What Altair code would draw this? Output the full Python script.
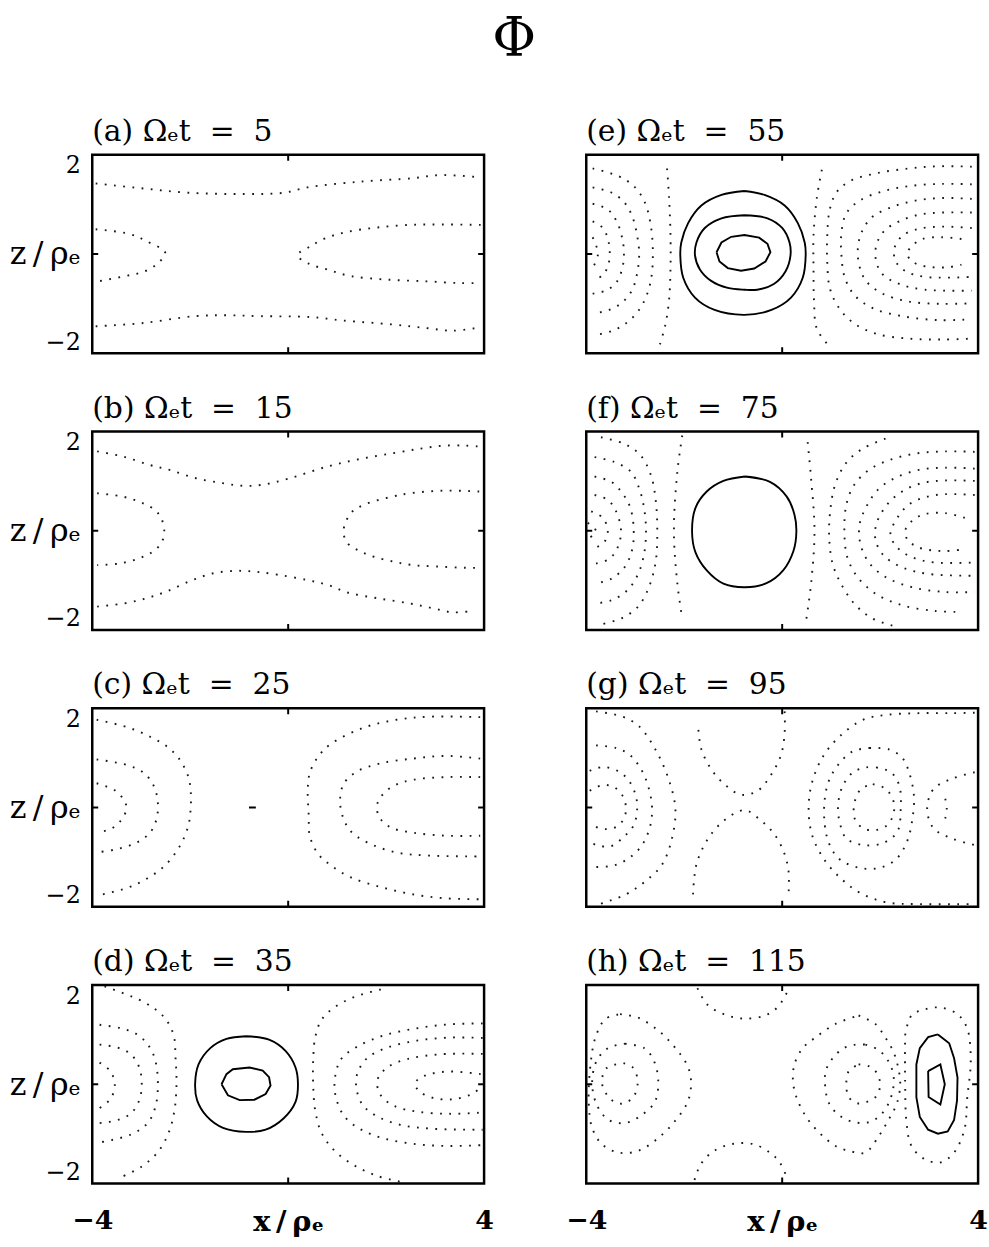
import altair as alt
import pandas as pd

W, H = 395, 200
SERIF = "DejaVu Serif"

# ---- contour paths, each a list of (x/rho_e, z/rho_e) points ----
# (a) t = 5
A1 = [(-3.93, 1.60), (-2.99, 1.49), (-2.04, 1.39), (-0.89, 1.36), (-0.08, 1.39), (0.39, 1.51),
      (1.47, 1.64), (2.55, 1.72), (3.09, 1.79), (3.93, 1.74)]
A2 = [(-3.93, -1.64), (-2.99, -1.57), (-1.91, -1.41), (-1.23, -1.39), (-0.56, -1.41), (0.46, -1.43),
      (1.13, -1.51), (2.14, -1.60), (2.82, -1.68), (3.36, -1.74), (3.83, -1.68)]
A3 = [(-3.93, 0.56), (-3.26, 0.46), (-2.89, 0.29), (-2.51, 0.03), (-2.65, -0.20), (-2.92, -0.39),
      (-3.32, -0.50), (-3.93, -0.63)]
A4 = [(3.93, 0.66), (3.16, 0.67), (2.48, 0.66), (1.81, 0.60), (1.20, 0.50), (0.79, 0.37), (0.46, 0.18),
      (0.19, -0.03), (0.42, -0.22), (0.79, -0.35), (1.27, -0.50), (2.01, -0.58), (2.82, -0.62),
      (3.50, -0.66), (3.93, -0.66)]

# (b) t = 15
B1 = [(-3.90, 1.80), (-3.36, 1.68), (-2.82, 1.49), (-2.42, 1.38), (-1.88, 1.19), (-1.34, 1.08),
      (-0.94, 1.02), (-0.54, 1.04), (0.00, 1.18), (0.81, 1.46), (1.48, 1.63), (2.15, 1.76),
      (2.69, 1.86), (3.16, 1.93), (3.63, 1.93), (3.90, 1.91)]
B2 = [(-3.90, -1.72), (-3.36, -1.65), (-2.89, -1.53), (-2.49, -1.38), (-2.02, -1.15), (-1.55, -0.97),
      (-1.08, -0.91), (-0.67, -0.93), (-0.20, -1.00), (0.40, -1.12), (0.81, -1.23), (1.21, -1.40),
      (1.82, -1.53), (2.49, -1.65), (2.96, -1.76), (3.36, -1.85), (3.76, -1.82)]
B3 = [(-3.90, 0.85), (-3.36, 0.77), (-2.96, 0.62), (-2.72, 0.47), (-2.59, 0.28), (-2.53, -0.02),
      (-2.59, -0.28), (-2.76, -0.47), (-3.03, -0.62), (-3.43, -0.74), (-3.90, -0.78)]
B4 = [(3.90, 0.89), (3.16, 0.91), (2.49, 0.85), (2.15, 0.78), (1.55, 0.59), (1.28, 0.40), (1.13, 0.00),
      (1.21, -0.28), (1.48, -0.47), (1.75, -0.59), (2.15, -0.70), (2.55, -0.78), (3.03, -0.81),
      (3.63, -0.84), (3.90, -0.84)]

# (c) t = 25
C_L1 = [(-3.91, 1.99), (-3.28, 1.82), (-2.81, 1.60), (-2.47, 1.38), (-2.21, 1.08), (-2.04, 0.70),
        (-1.99, 0.37), (-1.99, -0.01), (-2.04, -0.42), (-2.21, -0.87), (-2.51, -1.31), (-2.88, -1.61),
        (-3.28, -1.82), (-3.91, -2.00)]
C_L2 = [(-3.91, 1.09), (-3.28, 0.96), (-2.94, 0.78), (-2.74, 0.48), (-2.66, 0.10), (-2.69, -0.27),
        (-2.82, -0.57), (-3.08, -0.79), (-3.48, -0.94), (-3.91, -1.02)]
C_L3 = [(-3.91, 0.55), (-3.54, 0.39), (-3.36, 0.18), (-3.30, -0.01), (-3.40, -0.27), (-3.61, -0.48),
        (-3.91, -0.57)]
C_R1 = [(3.92, 2.05), (2.88, 2.06), (2.21, 1.99), (1.54, 1.81), (0.87, 1.44), (0.61, 1.15), (0.44, 0.78),
        (0.40, 0.40), (0.42, -0.19), (0.44, -0.64), (0.61, -1.05), (0.87, -1.31), (1.27, -1.58),
        (1.88, -1.80), (2.55, -1.97), (3.22, -2.06), (3.92, -2.08)]
C_R2 = [(3.92, 1.11), (3.22, 1.17), (2.55, 1.11), (1.88, 1.00), (1.41, 0.82), (1.14, 0.55), (1.06, 0.18),
        (1.11, -0.19), (1.27, -0.53), (1.61, -0.79), (2.21, -1.02), (2.88, -1.09), (3.92, -1.11)]
C_R3 = [(3.92, 0.69), (3.22, 0.69), (2.55, 0.63), (2.21, 0.52), (1.94, 0.31), (1.81, 0.03), (1.88, -0.25),
        (2.11, -0.46), (2.55, -0.57), (3.22, -0.64), (3.92, -0.64)]
C_S = [(-0.80, 0.00), (-0.66, 0.00)]

# (d) t = 35
D_L1 = [(-3.75, 2.22), (-2.94, 1.86), (-2.54, 1.53), (-2.34, 1.12), (-2.30, 0.60), (-2.28, 0.01),
        (-2.32, -0.58), (-2.44, -1.10), (-2.67, -1.55), (-3.01, -1.88), (-3.48, -2.14)]
D_L2 = [(-3.85, 1.35), (-3.41, 1.27), (-3.07, 1.12), (-2.84, 0.86), (-2.71, 0.53), (-2.66, 0.01),
        (-2.71, -0.51), (-2.87, -0.88), (-3.21, -1.14), (-3.85, -1.32)]
D_L3 = [(-3.85, 0.90), (-3.48, 0.83), (-3.21, 0.68), (-3.04, 0.38), (-2.99, 0.01), (-3.04, -0.36),
        (-3.21, -0.66), (-3.51, -0.82), (-3.85, -0.88)]
D_L4 = [(-3.85, 0.49), (-3.64, 0.31), (-3.54, 0.01), (-3.62, -0.32), (-3.85, -0.54)]
D_S1 = [(-0.86, 1.09), (-0.39, 1.01), (-0.05, 0.75), (0.15, 0.38), (0.20, 0.00), (0.15, -0.40),
        (-0.09, -0.77), (-0.46, -1.03), (-0.86, -1.08), (-1.33, -0.99), (-1.66, -0.73), (-1.86, -0.36),
        (-1.90, 0.00), (-1.83, 0.45), (-1.59, 0.82), (-1.26, 1.03), (-0.86, 1.09)]
D_S2 = [(-1.36, 0.00), (-1.26, 0.23), (-1.13, 0.34), (-0.79, 0.38), (-0.52, 0.31), (-0.39, 0.16),
        (-0.36, -0.03), (-0.46, -0.22), (-0.69, -0.35), (-0.99, -0.36), (-1.23, -0.25), (-1.36, 0.00)]
D_R1 = [(1.89, 2.15), (1.35, 1.98), (0.95, 1.75), (0.68, 1.46), (0.55, 1.05), (0.51, 0.53), (0.51, 0.01),
        (0.55, -0.58), (0.68, -1.10), (0.95, -1.51), (1.35, -1.84), (1.82, -2.08), (2.29, -2.21)]
D_R2 = [(3.97, 1.38), (3.30, 1.36), (2.63, 1.27), (1.96, 1.11), (1.42, 0.86), (1.08, 0.57), (0.95, 0.09),
        (0.98, -0.32), (1.15, -0.73), (1.49, -1.03), (1.96, -1.23), (2.63, -1.36), (3.30, -1.40),
        (3.97, -1.38)]
D_R3 = [(3.97, 1.05), (3.30, 1.06), (2.63, 0.99), (2.02, 0.83), (1.62, 0.60), (1.42, 0.27), (1.39, -0.06),
        (1.52, -0.47), (1.82, -0.73), (2.29, -0.92), (2.96, -1.01), (3.97, -1.03)]
D_R4 = [(3.97, 0.69), (3.10, 0.68), (2.43, 0.57), (2.02, 0.38), (1.82, 0.09), (1.89, -0.25), (2.16, -0.49),
        (2.63, -0.62), (3.30, -0.67), (3.97, -0.64)]
D_R5 = [(3.93, 0.23), (3.30, 0.29), (2.89, 0.23), (2.66, 0.12), (2.59, 0.00), (2.69, -0.17), (2.96, -0.31),
        (3.36, -0.34), (3.77, -0.21), (3.97, -0.03)]

# (e) t = 55
E_VL = [(-2.35, 1.94), (-2.31, 1.29), (-2.28, 0.41), (-2.28, -0.32), (-2.31, -1.05), (-2.39, -1.63),
        (-2.51, -2.10)]
E_A1 = [(-3.87, 1.94), (-3.33, 1.76), (-3.03, 1.54), (-2.82, 1.21), (-2.69, 0.70), (-2.64, 0.01),
        (-2.69, -0.65), (-2.86, -1.16), (-3.13, -1.52), (-3.46, -1.74), (-3.87, -1.85)]
E_A2 = [(-3.87, 1.51), (-3.50, 1.40), (-3.23, 1.18), (-3.06, 0.85), (-2.96, 0.41), (-2.92, 0.01),
        (-2.96, -0.43), (-3.07, -0.83), (-3.29, -1.12), (-3.56, -1.28), (-3.87, -1.35)]
E_A3 = [(-3.87, 1.14), (-3.56, 1.01), (-3.38, 0.74), (-3.27, 0.38), (-3.23, 0.01), (-3.27, -0.35),
        (-3.39, -0.65), (-3.60, -0.83), (-3.87, -0.90)]
E_A4 = [(-3.87, 0.74), (-3.66, 0.59), (-3.55, 0.30), (-3.52, 0.01), (-3.56, -0.28), (-3.68, -0.50),
        (-3.87, -0.57)]
E_A5 = [(-3.87, 0.38), (-3.76, 0.01), (-3.87, -0.32)]
E_S1 = [(-0.77, 1.43), (-0.36, 1.34), (0.05, 1.10), (0.32, 0.70), (0.46, 0.26), (0.48, -0.03), (0.42, -0.54),
        (0.18, -0.99), (-0.22, -1.27), (-0.77, -1.38), (-1.38, -1.27), (-1.78, -0.99), (-2.02, -0.54),
        (-2.08, -0.03), (-2.06, 0.26), (-1.92, 0.70), (-1.65, 1.10), (-1.24, 1.34), (-0.77, 1.43)]
E_S2 = [(-0.77, 0.88), (-0.30, 0.81), (0.00, 0.59), (0.15, 0.26), (0.17, -0.03), (0.07, -0.39),
        (-0.17, -0.68), (-0.51, -0.81), (-0.77, -0.81), (-1.11, -0.77), (-1.45, -0.61), (-1.68, -0.35),
        (-1.78, -0.03), (-1.75, 0.26), (-1.58, 0.59), (-1.24, 0.81), (-0.77, 0.88)]
E_S3 = [(-1.34, 0.04), (-1.24, 0.26), (-1.04, 0.39), (-0.77, 0.43), (-0.47, 0.37), (-0.30, 0.23),
        (-0.24, 0.04), (-0.34, -0.17), (-0.57, -0.33), (-0.84, -0.38), (-1.11, -0.32), (-1.28, -0.17),
        (-1.34, 0.04)]
E_VR = [(0.81, 1.91), (0.71, 1.29), (0.64, 0.41), (0.64, -0.32), (0.65, -1.05), (0.71, -1.70), (0.97, -2.10)]
E_B1 = [(3.87, 1.98), (3.19, 1.99), (2.59, 1.94), (1.92, 1.83), (1.38, 1.65), (1.11, 1.40), (0.97, 1.00),
        (0.92, 0.41), (0.92, -0.17), (0.97, -0.76), (1.14, -1.19), (1.45, -1.56), (1.92, -1.81),
        (2.59, -1.92), (3.26, -1.94), (3.87, -1.92)]
E_B2 = [(3.87, 1.58), (3.26, 1.59), (2.59, 1.54), (2.05, 1.42), (1.58, 1.21), (1.31, 0.92), (1.21, 0.48),
        (1.21, -0.03), (1.28, -0.54), (1.48, -0.94), (1.85, -1.23), (2.45, -1.41), (3.19, -1.50),
        (3.87, -1.48)]
E_B3 = [(3.87, 1.25), (3.26, 1.27), (2.72, 1.21), (2.25, 1.07), (1.85, 0.85), (1.65, 0.56), (1.55, 0.19),
        (1.57, -0.24), (1.71, -0.61), (2.05, -0.90), (2.59, -1.08), (3.26, -1.13), (3.87, -1.12)]
E_B4 = [(3.87, 0.94), (3.26, 0.94), (2.79, 0.89), (2.39, 0.74), (2.08, 0.52), (1.92, 0.19), (1.92, -0.17),
        (2.05, -0.46), (2.39, -0.68), (2.92, -0.81), (3.87, -0.83)]
E_B5 = [(3.87, 0.59), (3.26, 0.62), (2.79, 0.57), (2.45, 0.41), (2.29, 0.12), (2.32, -0.17), (2.52, -0.39),
        (2.92, -0.52), (3.87, -0.52)]
E_B6 = [(3.66, 0.34), (3.26, 0.38), (2.86, 0.34), (2.66, 0.19), (2.55, 0.01), (2.66, -0.17), (2.92, -0.28),
        (3.39, -0.30), (3.66, -0.24)]

# (f) t = 75
F_VL = [(-2.04, 2.16), (-2.14, 1.34), (-2.21, -0.01), (-2.14, -1.20), (-2.04, -1.99)]
F_VR = [(0.52, 2.01), (0.59, 1.19), (0.66, -0.01), (0.59, -1.20), (0.49, -2.03)]
F_S = [(-0.76, 1.23), (-0.25, 1.11), (0.09, 0.78), (0.25, 0.37), (0.29, -0.01), (0.23, -0.46), (0.02, -0.90),
       (-0.32, -1.19), (-0.76, -1.28), (-1.20, -1.20), (-1.54, -0.90), (-1.77, -0.49), (-1.84, -0.01),
       (-1.77, 0.52), (-1.54, 0.89), (-1.20, 1.13), (-0.76, 1.23)]
F_A1 = [(-3.70, 2.12), (-3.22, 1.97), (-2.89, 1.71), (-2.68, 1.26), (-2.58, 0.67), (-2.55, -0.01),
        (-2.58, -0.68), (-2.72, -1.28), (-2.95, -1.73), (-3.29, -1.99), (-3.76, -2.14)]
F_A2 = [(-3.83, 1.67), (-3.43, 1.56), (-3.09, 1.34), (-2.92, 0.96), (-2.82, 0.52), (-2.78, -0.01),
        (-2.82, -0.53), (-2.94, -0.98), (-3.16, -1.35), (-3.49, -1.58), (-3.83, -1.65)]
F_A3 = [(-3.83, 1.23), (-3.49, 1.11), (-3.26, 0.85), (-3.10, 0.52), (-3.03, -0.01), (-3.07, -0.46),
        (-3.22, -0.83), (-3.49, -1.09), (-3.83, -1.20)]
F_A4 = [(-3.83, 0.81), (-3.56, 0.70), (-3.39, 0.44), (-3.29, -0.01), (-3.36, -0.38), (-3.53, -0.64),
        (-3.83, -0.75)]
F_A5 = [(-3.90, 0.44), (-3.66, 0.29), (-3.56, -0.01), (-3.64, -0.27), (-3.90, -0.42)]
F_A6 = [(-3.97, 0.18), (-3.80, -0.01), (-3.97, -0.19)]
F_B1 = [(2.11, 2.09), (1.64, 1.86), (1.30, 1.53), (1.08, 1.04), (0.98, 0.44), (0.96, -0.16), (1.03, -0.75),
        (1.20, -1.20), (1.47, -1.65), (1.84, -1.99), (2.38, -2.19)]
F_B2 = [(3.93, 1.79), (3.33, 1.80), (2.72, 1.75), (2.18, 1.60), (1.77, 1.38), (1.47, 1.04), (1.31, 0.59),
        (1.27, -0.01), (1.33, -0.60), (1.54, -1.05), (1.91, -1.43), (2.45, -1.69), (3.12, -1.82),
        (3.60, -1.84)]
F_B3 = [(3.93, 1.41), (3.33, 1.43), (2.79, 1.38), (2.31, 1.20), (1.98, 0.96), (1.74, 0.59), (1.58, 0.14),
        (1.60, -0.31), (1.77, -0.72), (2.11, -1.05), (2.65, -1.28), (3.33, -1.39), (3.93, -1.39)]
F_B4 = [(3.93, 1.13), (3.33, 1.14), (2.85, 1.08), (2.45, 0.89), (2.14, 0.59), (1.92, 0.14), (1.91, -0.23),
        (2.08, -0.57), (2.45, -0.83), (2.99, -0.98), (3.93, -1.02)]
F_B5 = [(3.93, 0.81), (3.33, 0.83), (2.92, 0.76), (2.58, 0.59), (2.35, 0.29), (2.21, -0.08), (2.35, -0.38),
        (2.65, -0.60), (3.12, -0.72), (3.93, -0.72)]
F_B6 = [(3.73, 0.29), (3.33, 0.40), (2.92, 0.38), (2.68, 0.25), (2.52, 0.03), (2.55, -0.19), (2.79, -0.38),
        (3.26, -0.46), (3.73, -0.42)]

# (g) t = 95
G_A1 = [(-3.80, 2.18), (-3.26, 2.06), (-2.92, 1.84), (-2.59, 1.32), (-2.32, 0.65), (-2.18, -0.03),
        (-2.25, -0.70), (-2.45, -1.29), (-2.79, -1.67), (-3.19, -1.97), (-3.73, -2.19)]
G_A2 = [(-3.80, 1.41), (-3.39, 1.35), (-3.13, 1.21), (-2.92, 0.94), (-2.76, 0.57), (-2.66, 0.05),
        (-2.69, -0.40), (-2.86, -0.85), (-3.13, -1.15), (-3.46, -1.32), (-3.87, -1.35)]
G_A3 = [(-3.93, 0.83), (-3.66, 0.92), (-3.36, 0.83), (-3.13, 0.61), (-2.99, 0.27), (-2.96, -0.03),
        (-3.03, -0.40), (-3.23, -0.66), (-3.50, -0.88), (-3.76, -0.86), (-3.93, -0.79)]
G_A4 = [(-3.93, 0.38), (-3.66, 0.51), (-3.43, 0.46), (-3.26, 0.27), (-3.19, 0.01), (-3.23, -0.25),
        (-3.39, -0.44), (-3.63, -0.49), (-3.90, -0.40)]
G_U = [(-1.71, 1.76), (-1.65, 1.32), (-1.45, 0.87), (-1.18, 0.53), (-0.84, 0.29), (-0.50, 0.38),
       (-0.24, 0.72), (-0.03, 1.17), (0.05, 1.69), (0.05, 2.18)]
G_N = [(-1.82, -1.97), (-1.75, -1.29), (-1.51, -0.70), (-1.18, -0.29), (-0.77, -0.06), (-0.44, -0.29),
       (-0.17, -0.59), (0.03, -1.00), (0.13, -1.44), (0.13, -1.97)]
G_C1 = [(3.93, 2.15), (3.46, 2.14), (2.79, 2.14), (2.12, 2.10), (1.65, 1.99), (1.18, 1.62), (0.84, 1.17),
        (0.61, 0.57), (0.54, -0.03), (0.61, -0.62), (0.84, -1.15), (1.18, -1.59), (1.58, -1.93),
        (2.12, -2.15), (2.79, -2.19), (3.87, -2.19)]
G_C2 = [(1.78, 1.35), (2.18, 1.32), (2.45, 1.13), (2.59, 0.80), (2.69, 0.27), (2.66, -0.25), (2.55, -0.77),
        (2.32, -1.18), (1.98, -1.37), (1.58, -1.37), (1.18, -1.18), (0.97, -0.85), (0.87, -0.40),
        (0.87, 0.20), (0.97, 0.65), (1.18, 1.02), (1.45, 1.28), (1.78, 1.35)]
G_C3 = [(1.92, 0.91), (2.22, 0.80), (2.39, 0.50), (2.42, -0.03), (2.35, -0.55), (2.05, -0.81), (1.65, -0.85),
        (1.31, -0.70), (1.18, -0.36), (1.14, 0.05), (1.24, 0.50), (1.45, 0.80), (1.71, 0.91), (1.92, 0.91)]
G_C4 = [(1.85, 0.53), (2.12, 0.42), (2.29, 0.05), (2.18, -0.36), (1.92, -0.51), (1.65, -0.47), (1.48, -0.25),
        (1.48, 0.12), (1.61, 0.42), (1.85, 0.53)]
G_D = [(3.93, 0.80), (3.46, 0.65), (3.09, 0.42), (2.96, -0.03), (3.09, -0.47), (3.46, -0.70), (3.93, -0.85)]
G_E = [(3.33, 0.20), (3.36, -0.03), (3.33, -0.25)]

# (h) t = 115
H_L1 = [(-3.31, 1.59), (-2.94, 1.51), (-2.53, 1.22), (-2.20, 0.85), (-1.93, 0.41), (-1.86, 0.04),
        (-1.93, -0.40), (-2.20, -0.85), (-2.53, -1.22), (-2.94, -1.51), (-3.34, -1.55), (-3.68, -1.36),
        (-3.88, -0.99), (-3.95, -0.40), (-3.91, 0.48), (-3.81, 1.07), (-3.61, 1.48), (-3.31, 1.59)]
H_L2 = [(-3.21, 0.92), (-2.80, 0.81), (-2.60, 0.48), (-2.53, 0.04), (-2.60, -0.40), (-2.87, -0.70),
        (-3.21, -0.88), (-3.54, -0.81), (-3.78, -0.48), (-3.88, 0.04), (-3.78, 0.55), (-3.54, 0.83),
        (-3.21, 0.92)]
H_L3 = [(-3.24, 0.48), (-3.04, 0.37), (-2.95, 0.04), (-3.04, -0.29), (-3.27, -0.44), (-3.51, -0.33),
        (-3.68, 0.04), (-3.58, 0.37), (-3.24, 0.48)]
H_U = [(-1.73, 2.18), (-1.53, 1.81), (-1.19, 1.59), (-0.79, 1.49), (-0.38, 1.55), (-0.11, 1.73),
       (0.09, 2.07), (0.12, 2.21)]
H_N = [(-1.79, -2.17), (-1.66, -1.81), (-1.39, -1.51), (-0.99, -1.35), (-0.58, -1.36), (-0.25, -1.55),
       (-0.05, -1.77), (0.09, -2.10)]
H_K1 = [(1.56, 1.56), (1.90, 1.37), (2.10, 1.07), (2.27, 0.74), (2.37, 0.37), (2.41, 0.00), (2.34, -0.44),
        (2.17, -0.81), (1.97, -1.18), (1.70, -1.55), (1.43, -1.53), (1.09, -1.40), (0.76, -1.10),
        (0.49, -0.74), (0.29, -0.29), (0.22, 0.08), (0.25, 0.45), (0.42, 0.82), (0.69, 1.07), (1.09, 1.37),
        (1.56, 1.56)]
H_K2 = [(1.70, 0.90), (1.97, 0.78), (2.17, 0.52), (2.27, 0.22), (2.27, -0.07), (2.17, -0.44), (1.97, -0.74),
        (1.73, -0.87), (1.43, -0.85), (1.16, -0.70), (0.96, -0.44), (0.88, -0.07), (0.89, 0.30), (1.03, 0.59),
        (1.26, 0.82), (1.50, 0.90), (1.70, 0.90)]
H_K3 = [(1.56, 0.45), (1.77, 0.41), (1.93, 0.26), (2.00, 0.00), (1.93, -0.26), (1.73, -0.40), (1.53, -0.43),
        (1.36, -0.29), (1.31, 0.00), (1.36, 0.30), (1.56, 0.45)]
H_K4 = [(2.51, 1.11), (2.64, 1.56), (2.91, 1.70), (3.24, 1.74), (3.58, 1.59), (3.78, 1.26), (3.85, 0.52),
        (3.78, -0.29), (3.72, -1.03), (3.51, -1.55), (3.24, -1.77), (2.91, -1.70), (2.64, -1.40),
        (2.54, -0.88), (2.51, 0.08), (2.51, 1.11)]
H_S1 = [(3.18, 1.13), (3.41, 0.93), (3.51, 0.59), (3.58, 0.15), (3.57, -0.37), (3.51, -0.81), (3.38, -1.07),
        (3.18, -1.12), (2.98, -1.03), (2.81, -0.74), (2.74, -0.29), (2.74, 0.45), (2.81, 0.82), (2.98, 1.07),
        (3.18, 1.13)]
H_S2 = [(2.98, 0.30), (3.23, 0.45), (3.32, 0.00), (3.23, -0.46), (2.99, -0.29), (2.98, 0.30)]

# kinds: "dot" = negative level (dotted), "solid" = smooth positive level, "poly" = coarse positive level
PANELS = {
    "a": (5, [(A1, "dot"), (A2, "dot"), (A3, "dot"), (A4, "dot")]),
    "b": (15, [(B1, "dot"), (B2, "dot"), (B3, "dot"), (B4, "dot")]),
    "c": (25, [(C_L1, "dot"), (C_L2, "dot"), (C_L3, "dot"), (C_R1, "dot"), (C_R2, "dot"),
               (C_R3, "dot"), (C_S, "poly")]),
    "d": (35, [(D_L1, "dot"), (D_L2, "dot"), (D_L3, "dot"), (D_L4, "dot"), (D_S1, "solid"),
               (D_S2, "poly"), (D_R1, "dot"), (D_R2, "dot"), (D_R3, "dot"), (D_R4, "dot"), (D_R5, "dot")]),
    "e": (55, [(E_VL, "dot"), (E_A1, "dot"), (E_A2, "dot"), (E_A3, "dot"), (E_A4, "dot"), (E_A5, "dot"),
               (E_S1, "solid"), (E_S2, "solid"), (E_S3, "poly"), (E_VR, "dot"), (E_B1, "dot"),
               (E_B2, "dot"), (E_B3, "dot"), (E_B4, "dot"), (E_B5, "dot"), (E_B6, "dot")]),
    "f": (75, [(F_VL, "dot"), (F_VR, "dot"), (F_S, "solid"), (F_A1, "dot"), (F_A2, "dot"), (F_A3, "dot"),
               (F_A4, "dot"), (F_A5, "dot"), (F_A6, "dot"), (F_B1, "dot"), (F_B2, "dot"), (F_B3, "dot"),
               (F_B4, "dot"), (F_B5, "dot"), (F_B6, "dot")]),
    "g": (95, [(G_A1, "dot"), (G_A2, "dot"), (G_A3, "dot"), (G_A4, "dot"), (G_U, "dot"), (G_N, "dot"),
               (G_C1, "dot"), (G_C2, "dot"), (G_C3, "dot"), (G_C4, "dot"), (G_D, "dot"), (G_E, "dot")]),
    "h": (115, [(H_L1, "dot"), (H_L2, "dot"), (H_L3, "dot"), (H_U, "dot"), (H_N, "dot"), (H_K1, "dot"),
                (H_K2, "dot"), (H_K3, "dot"), (H_K4, "dot"), (H_S1, "poly"), (H_S2, "poly")]),
}

X_SCALE = alt.Scale(domain=[-4, 4], nice=False, zero=False)
Z_SCALE = alt.Scale(domain=[-2.25, 2.25], nice=False, zero=False)
NBSP = "\u00a0"
THIN = "\u2009"


def path_table(paths):
    rows = []
    for cid, (pts, kind) in enumerate(paths):
        for i, (x, z) in enumerate(pts):
            rows.append({"cid": cid, "i": i, "x": x, "z": z, "kind": kind})
    return pd.DataFrame(rows)


def x_axis():
    return alt.Axis(values=[-4, 0, 4],
                    labelExpr=f"datum.value == 0 ? 'x{THIN}/{THIN}ρₑ' : datum.label",
                    labelFont=SERIF, labelFontWeight="bold", labelColor="black",
                    labelFontSize={"condition": {"test": "datum.value == 0", "value": 29}, "value": 27},
                    labelPadding=24, labelFlush=False, labelOverlap=False,
                    ticks=False, domain=False, grid=False, title=None)


def z_axis():
    return alt.Axis(values=[-2, 0, 2],
                    labelExpr=f"datum.value == 0 ? 'z{THIN}/{THIN}ρₑ' : datum.label",
                    labelFont=SERIF, labelColor="black",
                    labelFontSize={"condition": {"test": "datum.value == 0", "value": 32}, "value": 24},
                    labelPadding=12, labelFlush=False, labelOverlap=False, labelBaseline="middle",
                    ticks=False, domain=False, grid=False, title=None)


def panel(letter, show_x, show_y):
    t, paths = PANELS[letter]
    df = path_table(paths)
    x = alt.X("x:Q", scale=X_SCALE, axis=x_axis() if show_x else None)
    z = alt.Y("z:Q", scale=Z_SCALE, axis=z_axis() if show_y else None)
    base = alt.Chart(df)
    layers = []
    styles = {
        "dot": dict(strokeWidth=1.9, strokeDash=[1.8, 7.5], interpolate="catmull-rom", opacity=0.9),
        "solid": dict(strokeWidth=1.9, interpolate="catmull-rom"),
        "poly": dict(strokeWidth=1.9, interpolate="linear"),
    }
    for kind, style in styles.items():
        if (df["kind"] == kind).any():
            layers.append(
                base.transform_filter(alt.datum.kind == kind)
                .mark_line(color="black", clip=True, **style)
                .encode(x=x, y=z, detail="cid:N", order="i:Q")
            )
    # small inward ticks at the middle of every edge (x = 0, z = 0 on symmetric domains)
    one = pd.DataFrame({"k": [0]})
    tick = alt.Chart(one).mark_rule(color="black", strokeWidth=2)
    layers += [
        tick.encode(x=alt.value(W / 2), y=alt.value(0), y2=alt.value(6)),
        tick.encode(x=alt.value(W / 2), y=alt.value(H - 6), y2=alt.value(H)),
        tick.encode(y=alt.value(H / 2), x=alt.value(0), x2=alt.value(6)),
        tick.encode(y=alt.value(H / 2), x=alt.value(W - 6), x2=alt.value(W)),
    ]
    title = f"({letter}) Ωₑt{NBSP}{NBSP}={NBSP}{NBSP}{t}"
    return alt.layer(*layers).properties(
        width=W, height=H,
        title=alt.TitleParams(title, anchor="start", frame="group", font=SERIF, fontSize=30,
                              fontWeight="normal", color="black", offset=7),
    )


# one row per time pair; the bottom row carries the x labels, whose overhang
# at the panel edges needs a narrower gap to keep the columns lined up
rows = []
for lft, rgt in [("a", "e"), ("b", "f"), ("c", "g"), ("d", "h")]:
    bottom = lft == "d"
    rows.append(alt.hconcat(panel(lft, bottom, True), panel(rgt, bottom, False),
                            spacing=70 if bottom else 97))

chart = (
    alt.vconcat(*rows, spacing=36)
    .properties(
        title=alt.TitleParams("Φ", anchor="middle", font=SERIF, fontSize=54, fontWeight="normal",
                              color="black", offset=49, dx=16),
        background="white",
        padding={"left": 8, "top": 8, "right": 0, "bottom": 4},
    )
    .configure_view(stroke="black", strokeWidth=2.5)
)

chart.save("out.html", embed_options={"renderer": "svg", "actions": False})
